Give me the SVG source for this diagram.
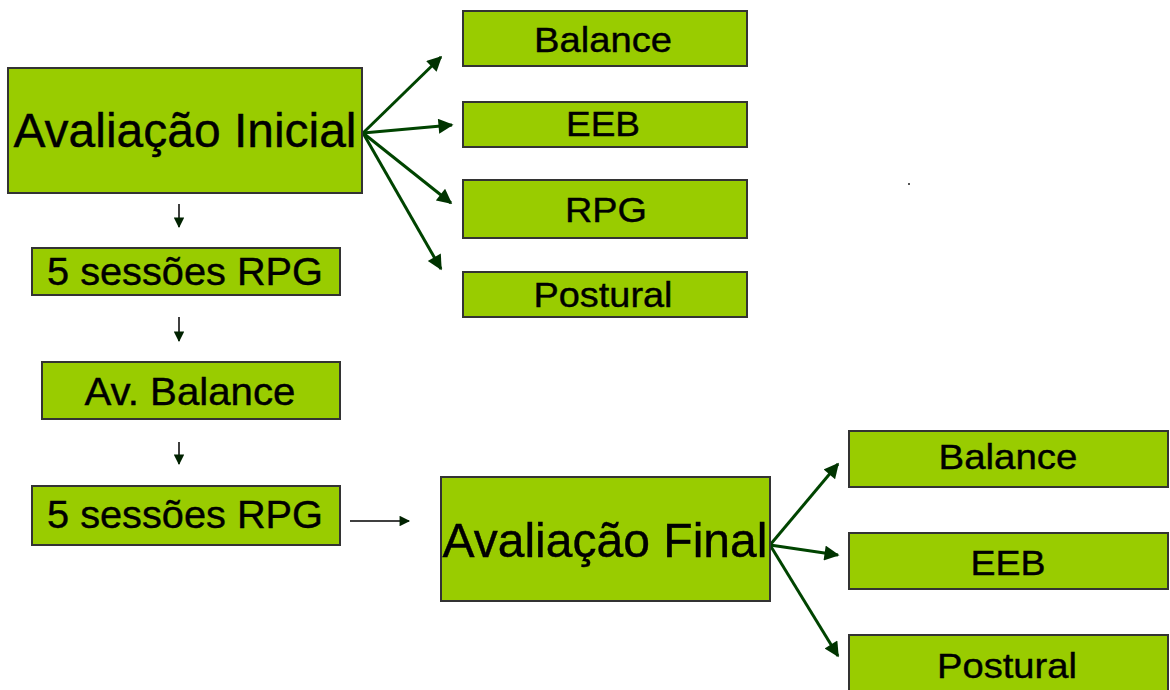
<svg xmlns="http://www.w3.org/2000/svg" width="1170" height="690" viewBox="0 0 1170 690">
<style>
.box{fill:#99cc00;stroke:#333333;stroke-width:2}
text{font-family:"Liberation Sans",Arial,sans-serif;fill:#000;text-anchor:middle;stroke:#000;stroke-width:0.4}
.big{font-size:48px}
.mid{font-size:39px}
.sm{font-size:35px}
.g{stroke:#004400;stroke-width:3;fill:none}
.k{stroke:#000;stroke-width:1.5;fill:none}
</style>
<defs>
<marker id="ag" viewBox="0 0 10 10" refX="9" refY="5" markerWidth="5.5" markerHeight="5" orient="auto" markerUnits="strokeWidth"><path d="M0,0 L10,5 L0,10 z" fill="#003300"/></marker>
<marker id="ak" viewBox="0 0 10 10" refX="9" refY="5" markerWidth="8" markerHeight="7" orient="auto" markerUnits="strokeWidth"><path d="M0,0 L10,5 L0,10 z" fill="#002200"/></marker>
</defs>
<rect x="0" y="0" width="1170" height="690" fill="#fff"/>
<g id="connectors">
<line class="g" x1="363" y1="133" x2="441" y2="57" marker-end="url(#ag)"/>
<line class="g" x1="363" y1="133" x2="452" y2="125" marker-end="url(#ag)"/>
<line class="g" x1="363" y1="133" x2="451" y2="203" marker-end="url(#ag)"/>
<line class="g" x1="363" y1="133" x2="441" y2="269" marker-end="url(#ag)"/>
<line class="k" x1="179" y1="204" x2="179" y2="227" marker-end="url(#ak)"/>
<line class="k" x1="179" y1="317" x2="179" y2="341" marker-end="url(#ak)"/>
<line class="k" x1="179" y1="442" x2="179" y2="464" marker-end="url(#ak)"/>
<line class="k" x1="350" y1="521" x2="409" y2="521" marker-end="url(#ak)"/>
<line class="g" x1="770" y1="545" x2="838" y2="464" marker-end="url(#ag)"/>
<line class="g" x1="770" y1="545" x2="838" y2="555" marker-end="url(#ag)"/>
<line class="g" x1="770" y1="545" x2="838" y2="656" marker-end="url(#ag)"/>
</g>
<g id="n-inicial"><rect class="box" x="8" y="68" width="354" height="125"/><text class="big" x="185" y="147" textLength="343" lengthAdjust="spacingAndGlyphs">Avaliação Inicial</text></g>
<g id="n-balance1"><rect class="box" x="463" y="11" width="284" height="55"/><text class="sm" x="603" y="52" textLength="138" lengthAdjust="spacingAndGlyphs">Balance</text></g>
<g id="n-eeb1"><rect class="box" x="463" y="102" width="284" height="45"/><text class="sm" x="603" y="136" textLength="74" lengthAdjust="spacingAndGlyphs">EEB</text></g>
<g id="n-rpg1"><rect class="box" x="463" y="180" width="284" height="58"/><text class="sm" x="606" y="222" textLength="82" lengthAdjust="spacingAndGlyphs">RPG</text></g>
<g id="n-postural1"><rect class="box" x="463" y="272" width="284" height="45"/><text class="sm" x="603" y="307" textLength="139" lengthAdjust="spacingAndGlyphs">Postural</text></g>
<g id="n-sessoes1"><rect class="box" x="32" y="248" width="308" height="47"/><text class="mid" x="185" y="285" textLength="276" lengthAdjust="spacingAndGlyphs">5 sessões RPG</text></g>
<g id="n-avbalance"><rect class="box" x="42" y="362" width="298" height="57"/><text class="mid" x="190" y="405" textLength="211" lengthAdjust="spacingAndGlyphs">Av. Balance</text></g>
<g id="n-sessoes2"><rect class="box" x="32" y="486" width="308" height="59"/><text class="mid" x="185" y="528" textLength="276" lengthAdjust="spacingAndGlyphs">5 sessões RPG</text></g>
<g id="n-final"><rect class="box" x="441" y="477" width="329" height="124"/><text class="big" x="605" y="557" textLength="325" lengthAdjust="spacingAndGlyphs">Avaliação Final</text></g>
<g id="n-balance2"><rect class="box" x="849" y="431" width="319" height="56"/><text class="sm" x="1008" y="469" textLength="139" lengthAdjust="spacingAndGlyphs">Balance</text></g>
<g id="n-eeb2"><rect class="box" x="849" y="533" width="319" height="56"/><text class="sm" x="1008" y="575" textLength="75" lengthAdjust="spacingAndGlyphs">EEB</text></g>
<g id="n-postural2"><rect class="box" x="849" y="635" width="319" height="60"/><text class="sm" x="1007" y="678" textLength="140" lengthAdjust="spacingAndGlyphs">Postural</text></g>
<rect x="908" y="183" width="2" height="2" fill="#555"/>
</svg>
